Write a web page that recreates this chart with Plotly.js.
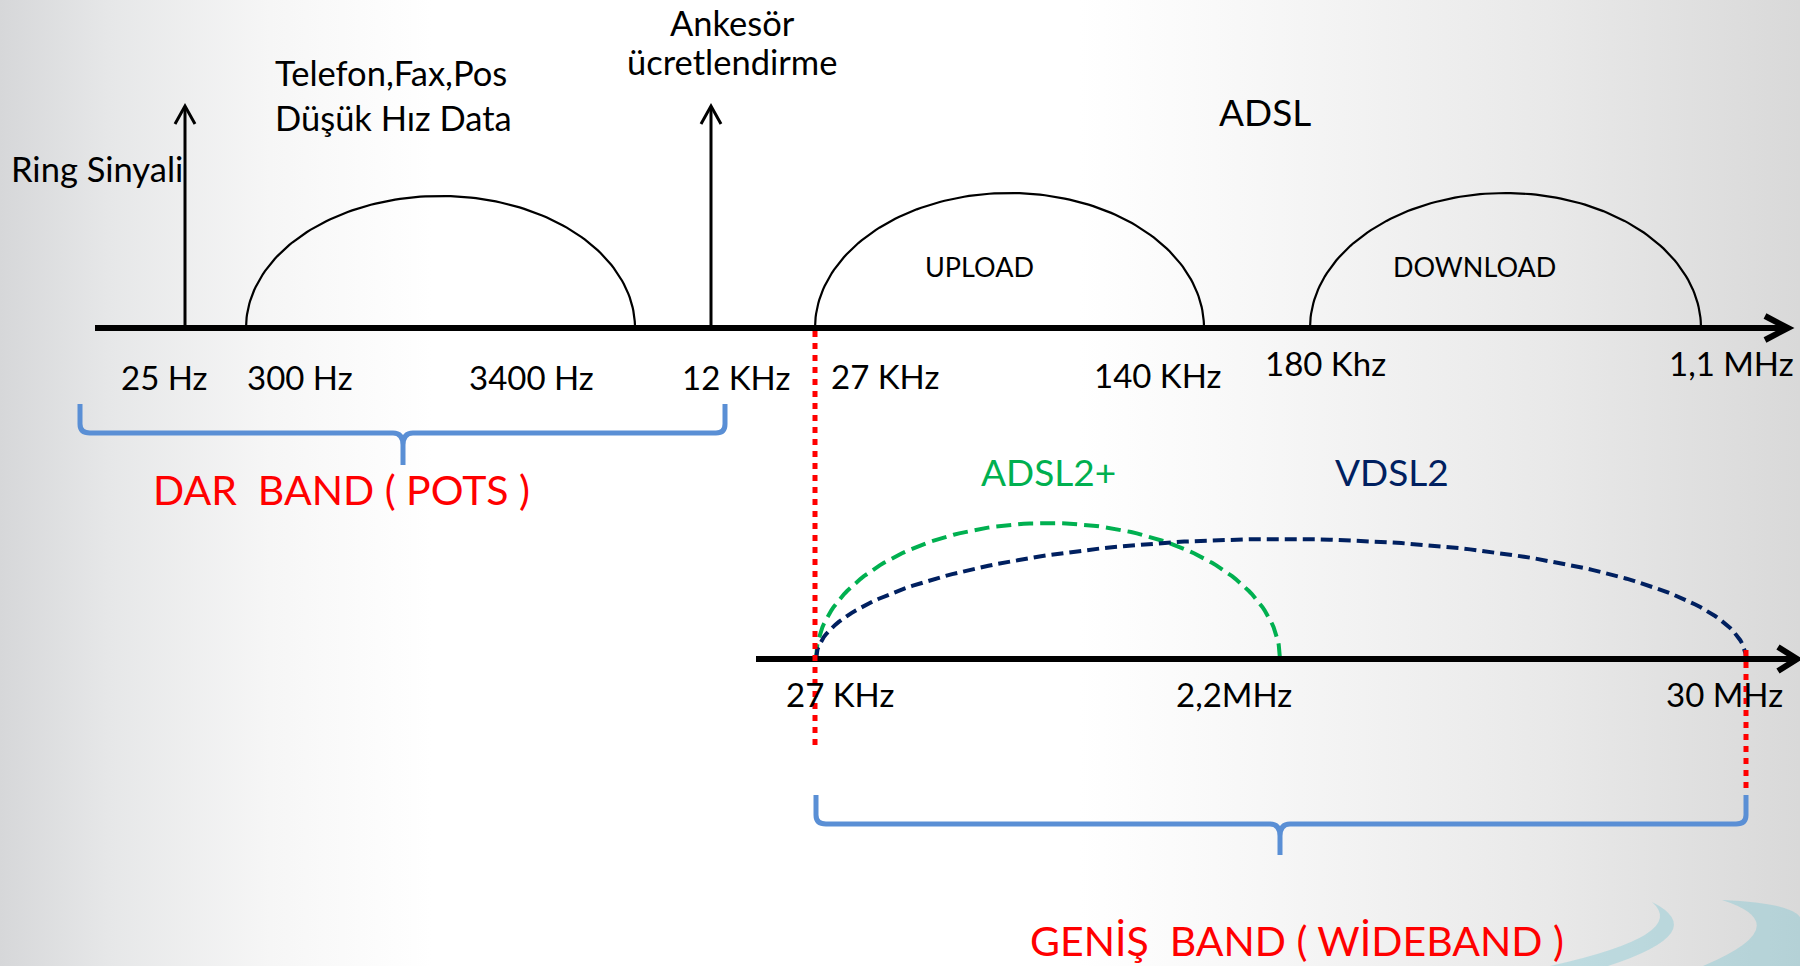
<!DOCTYPE html>
<html><head><meta charset="utf-8">
<script src="https://cdn.plot.ly/plotly-3.0.1.min.js"></script>
<style>
html,body{margin:0;padding:0;width:1800px;height:966px;overflow:hidden;
background: linear-gradient(to right, #d6d7d9 0%, #e6e7e8 6%, #f6f6f6 15%, #ffffff 24%, #ffffff 60%, #f7f7f7 70%, #e9e9e9 86%, #d9d9d9 100%);}
#chart{width:1800px;height:966px;}
</style></head><body><div id="chart"></div>
<script>
// ---------- data ----------
const topAxisLabels    = ['25 Hz','300 Hz','3400 Hz','12 KHz','27 KHz','140 KHz','180 Khz','1,1 MHz'];
const bottomAxisLabels = ['27 KHz','2,2MHz','30 MHz'];
const ringLabel        = 'Ring Sinyali';
const ankesorLabel     = ['Ankesör','ücretlendirme'];
const potsLabel        = ['Telefon,Fax,Pos','Düşük Hız Data'];
const adslBandNames    = ['UPLOAD','DOWNLOAD'];
const wideSeries       = ['ADSL2+','VDSL2'];
const wideSeriesColors = ['#00b050','#002060'];
const groupTitle       = 'ADSL';
const bandNames        = ['DAR  BAND ( POTS )','GENİŞ  BAND ( WİDEBAND )'];

// ---------- layout geometry (pixel-space diagram) ----------
const FONT = 'Lato, "Open Sans", sans-serif';
const topY = 328, botY = 659;
const topLabelPos = [[164,377],[300,377],[531,377],[736,377],[885,376],[1157,375],[1325,363],[1731,363]];
const botLabelPos = [[840,694],[1234,694],[1724,694]];
const adslArcs = [[815,1204,193],[1310,1701,193]];
const potsArc  = [246,635,196];
const wideArcs = [[816,1280,523],[816,1746,539]];
const signalX  = [185,711];

function arc(x0,x1,base,peak){
  const xs=[],ys=[],cx=(x0+x1)/2,rx=(x1-x0)/2,ry=base-peak;
  for(let i=0;i<=120;i++){const t=Math.PI*(1-i/120);xs.push(cx+rx*Math.cos(t));ys.push(base-ry*Math.sin(t));}
  return {x:xs,y:ys};
}

const traces=[];
const solidArcs=[potsArc].concat(adslArcs);
solidArcs.forEach(a=>{const p=arc(a[0],a[1],topY,a[2]);
  traces.push({type:'scatter',mode:'lines',x:p.x,y:p.y,line:{color:'#000',width:2.2},hoverinfo:'skip',showlegend:false});});
wideArcs.forEach((a,i)=>{const p=arc(a[0],a[1],botY,a[2]);
  traces.push({type:'scatter',mode:'lines',x:p.x,y:p.y,line:{color:wideSeriesColors[i],width:4,dash:i===0?'15px,7px':'12px,6px'},hoverinfo:'skip',showlegend:false});});

const shapes=[];
function line(x0,y0,x1,y1,color,width,dash){shapes.push({type:'line',xref:'x',yref:'y',x0,y0,x1,y1,line:{color,width,dash:dash||'solid'}});}
function path(d,color,width,fill){shapes.push({type:'path',xref:'x',yref:'y',path:d,line:{color:color,width:width},fillcolor:fill||'rgba(0,0,0,0)'});}

// swoosh decoration
path('M 1550,966 Q 1690,935 1652,902 Q 1712,932 1608,966 Z','rgba(0,0,0,0)',0,'rgba(105,195,208,0.33)');
path('M 1703,966 Q 1800,925 1722,900 Q 1790,903 1800,917 L 1800,966 Z','rgba(0,0,0,0)',0,'rgba(105,195,208,0.33)');

// axes
line(95,topY,1786,topY,'#000',6);
path('M 1765,316 L 1788,328 L 1765,340','#000',6);
line(756,botY,1795,botY,'#000',6);
path('M 1778,647 L 1797,659 L 1778,671','#000',6);
// signal arrows
signalX.forEach(x=>{line(x,topY,x,107,'#000',3);path(`M ${x-10},124 L ${x},106 L ${x+10},124`,'#000',3);});
// red dotted boundaries
line(815,331,815,748,'#ff0000',5,'6px,6px');
line(1746,650,1746,794,'#ff0000',5,'6px,6px');
// brackets
const bc='#5a8fd5';
path('M 80,404 L 80,424 Q 80,433 90,433 L 393,433 Q 403,433 403,445 L 403,465 M 403,445 Q 403,433 413,433 L 716,433 Q 725,433 725,424 L 725,404',bc,5);
path('M 816,795 L 816,815 Q 816,824 826,824 L 1270,824 Q 1280,824 1280,836 L 1280,855 M 1280,836 Q 1280,824 1290,824 L 1736,824 Q 1746,824 1746,815 L 1746,795',bc,5);

const ann=[];
function txt(text,x,y,size,color,xanchor,yanchor){ann.push({text,x,y,xref:'x',yref:'y',showarrow:false,xanchor:xanchor||'center',yanchor:yanchor||'middle',font:{family:FONT,size,color:color||'#000'}});}
const S=33;
txt(ringLabel,9,168,34.5,'#000','left');
txt(ankesorLabel[0],732,0,34.5,'#000','center','top');
txt(ankesorLabel[1],732,61,34.5);
txt(potsLabel[0],273,72,34.5,'#000','left');
txt(potsLabel[1],273,117,34.5,'#000','left');
txt(groupTitle,1265,111,37);
adslBandNames.forEach((n,i)=>txt(n,[979,1474][i],266,27));
topAxisLabels.forEach((l,i)=>txt(l,topLabelPos[i][0],topLabelPos[i][1],S));
bottomAxisLabels.forEach((l,i)=>txt(l,botLabelPos[i][0],botLabelPos[i][1],S));
wideSeries.forEach((n,i)=>txt(n,[1048,1392][i],471,37,wideSeriesColors[i]));
txt(bandNames[0],341,489,41,'#ff0000');
txt(bandNames[1],1297,940,41,'#ff0000');

const layout={width:1800,height:966,margin:{l:0,r:0,t:0,b:0},
  paper_bgcolor:'rgba(0,0,0,0)',plot_bgcolor:'rgba(0,0,0,0)',
  xaxis:{range:[0,1800],visible:false,fixedrange:true},
  yaxis:{range:[966,0],visible:false,fixedrange:true},
  shapes,annotations:ann,showlegend:false};
Plotly.newPlot('chart',traces,layout,{displayModeBar:false,staticPlot:true});
</script></body></html>
